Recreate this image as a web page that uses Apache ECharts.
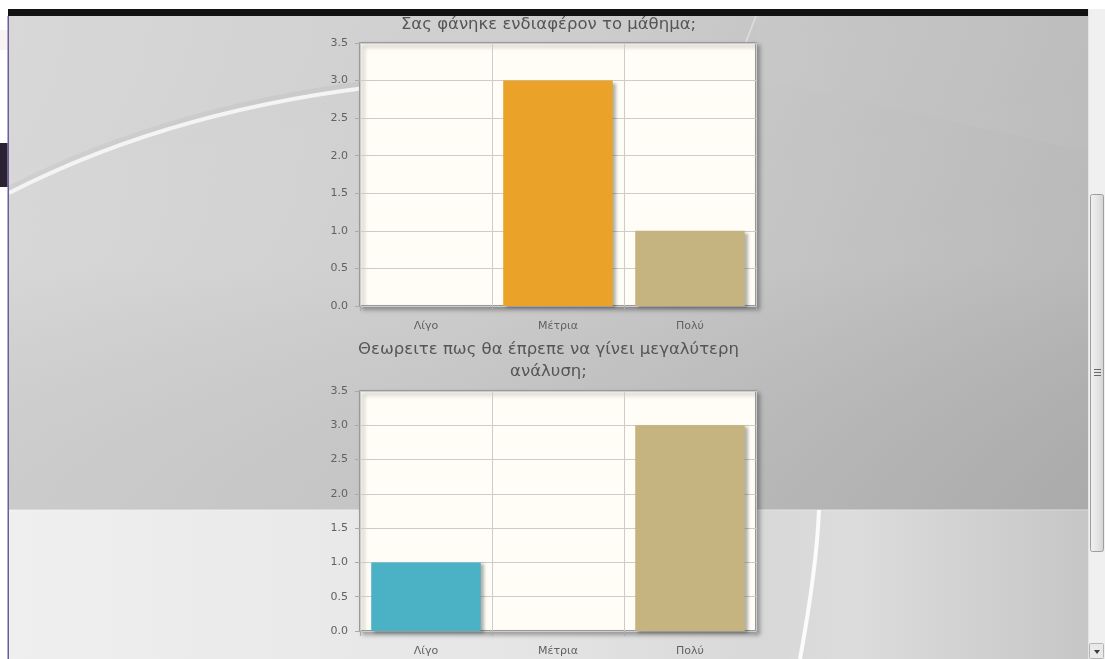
<!DOCTYPE html>
<html>
<head>
<meta charset="utf-8">
<title>Ερωτηματολόγιο μαθήματος</title>
<script src="https://cdn.jsdelivr.net/npm/echarts@6/dist/echarts.min.js"></script>
<style>
  html, body { margin: 0; padding: 0; background: #ffffff; }
  #chart { width: 1105px; height: 659px; }
</style>
</head>
<body>
<div id="chart"></div>
<script>
// Survey answers per question
const categories = ['Λίγο', 'Μέτρια', 'Πολύ'];
const interestValues = [0, 3, 1];   // Σας φάνηκε ενδιαφέρον το μάθημα;
const analysisValues = [1, 0, 3];   // Θεωρειτε πως θα έπρεπε να γίνει μεγαλύτερη ανάλυση;
const barColors = ['#4bb2c5', '#eaa228', '#c5b47f'];
const titles = [
  'Σας φάνηκε ενδιαφέρον το μάθημα;',
  'Θεωρειτε πως θα έπρεπε να γίνει μεγαλύτερη\nανάλυση;'
];
const yMin = 0, yMax = 3.5, yStep = 0.5;

const FONT = '"DejaVu Sans", Verdana, sans-serif';
const TEXT = '#616161';

const chart = echarts.init(document.getElementById('chart'), null, { renderer: 'canvas' });

// Page backdrop: grey panel with light swooshes, header strip and scrollbar
const backdrop = [
  { type: 'rect', shape: { x: 0, y: 0, width: 1105, height: 659 }, style: { fill: '#ffffff' } },
  { type: 'rect', shape: { x: 9, y: 16, width: 1079, height: 494 },
    style: { fill: new echarts.graphic.LinearGradient(0, 0, 1, 1, [
      { offset: 0, color: '#d6d6d6' }, { offset: 0.45, color: '#cbcbcb' }, { offset: 1, color: '#b0b0b0' }]) } },
  { type: 'rect', shape: { x: 9, y: 16, width: 1079, height: 494 },
    style: { fill: new echarts.graphic.LinearGradient(0, 0, 0, 1, [
      { offset: 0, color: 'rgba(255,255,255,0.04)' }, { offset: 0.5, color: 'rgba(255,255,255,0.07)' },
      { offset: 1, color: 'rgba(0,0,0,0.03)' }]) } },
  { type: 'polygon', shape: { points: [[757, 78], [1088, 152], [1088, 16], [757, 16]] },
    style: { fill: 'rgba(255,255,255,0.03)' } },
  { type: 'bezierCurve', shape: { x1: 9, y1: 190, x2: 400, y2: 81, cpx1: 134, cpy1: 126, cpx2: 270, cpy2: 94 },
    style: { stroke: 'rgba(0,0,0,0.035)', lineWidth: 8, fill: null } },
  { type: 'bezierCurve', shape: { x1: 9, y1: 193, x2: 400, y2: 84, cpx1: 134, cpy1: 129, cpx2: 270, cpy2: 97 },
    style: { stroke: '#f4f4f4', lineWidth: 4, fill: null } },
  { type: 'line', shape: { x1: 756, y1: 16, x2: 746, y2: 42 },
    style: { stroke: 'rgba(255,255,255,0.35)', lineWidth: 2 } },
  { type: 'rect', shape: { x: 9, y: 510, width: 1079, height: 149 },
    style: { fill: new echarts.graphic.LinearGradient(0, 0, 1, 0, [
      { offset: 0, color: '#efefef' }, { offset: 0.45, color: '#e6e6e6' }, { offset: 0.7, color: '#d8d8d8' },
      { offset: 0.78, color: '#dcdcdc' }, { offset: 1, color: '#c6c6c6' }]) } },
  { type: 'rect', shape: { x: 9, y: 509, width: 1079, height: 1.5 }, style: { fill: 'rgba(255,255,255,0.3)' } },
  { type: 'bezierCurve', shape: { x1: 819, y1: 510, x2: 800, y2: 659, cpx1: 817, cpy1: 560, cpx2: 809, cpy2: 610 },
    style: { stroke: '#fbfbfb', lineWidth: 4, fill: null } },
  { type: 'rect', shape: { x: 8, y: 9, width: 1080, height: 7 }, style: { fill: '#121212' } },
  { type: 'rect', shape: { x: 7.5, y: 16, width: 1.5, height: 643 }, style: { fill: '#6e5aa0' } },
  { type: 'rect', shape: { x: 0, y: 143, width: 7.5, height: 44 }, style: { fill: '#2a2232' } },
  { type: 'rect', shape: { x: 0, y: 30, width: 7.5, height: 20 }, style: { fill: 'rgba(170,90,90,0.08)' } },
  // scrollbar
  { type: 'rect', shape: { x: 1088, y: 9, width: 17, height: 650 }, style: { fill: '#f0f0f0' } },
  { type: 'rect', shape: { x: 1088, y: 9, width: 1, height: 650 }, style: { fill: '#e4e4e4' } },
  { type: 'rect', shape: { x: 1090.5, y: 194.5, width: 13, height: 357, r: 2 },
    style: { fill: new echarts.graphic.LinearGradient(0, 0, 1, 0, [
      { offset: 0, color: '#f2f2f2' }, { offset: 0.5, color: '#e6e6e6' }, { offset: 1, color: '#d2d2d2' }]),
      stroke: '#9e9e9e', lineWidth: 1 } },
  { type: 'line', shape: { x1: 1094, y1: 369.5, x2: 1101, y2: 369.5 }, style: { stroke: '#6a6a6a', lineWidth: 1 } },
  { type: 'line', shape: { x1: 1094, y1: 372.5, x2: 1101, y2: 372.5 }, style: { stroke: '#6a6a6a', lineWidth: 1 } },
  { type: 'line', shape: { x1: 1094, y1: 375.5, x2: 1101, y2: 375.5 }, style: { stroke: '#6a6a6a', lineWidth: 1 } },
  { type: 'rect', shape: { x: 1089.5, y: 643.5, width: 14, height: 15, r: 1 },
    style: { fill: '#e9e9e9', stroke: '#b4b4b4', lineWidth: 1 } },
  { type: 'polygon', shape: { points: [[1094, 650], [1100, 650], [1097, 654]] }, style: { fill: '#3c3c3c' } }
].map(function (el) { el.z = -100; el.silent = true; return el; });

function grid(top, height) {
  return {
    left: 360, top: top, width: 396, height: height,
    show: true, backgroundColor: '#fffdf6',
    borderColor: '#999999', borderWidth: 2,
    shadowColor: 'rgba(0,0,0,0.28)', shadowBlur: 4, shadowOffsetX: 3, shadowOffsetY: 3
  };
}

function xAxis(index) {
  return {
    type: 'category', gridIndex: index, data: categories, boundaryGap: true,
    axisLine: { show: false },
    axisTick: { show: true, length: 5, lineStyle: { color: '#aaaaaa' } },
    axisLabel: { color: TEXT, fontFamily: FONT, fontSize: 11, margin: 15 },
    splitLine: { show: true, interval: 0, lineStyle: { color: '#cccccc', width: 1 } }
  };
}

function yAxis(index) {
  return {
    type: 'value', gridIndex: index, min: yMin, max: yMax, interval: yStep,
    axisLine: { show: false },
    axisTick: { show: true, length: 5, lineStyle: { color: '#aaaaaa' } },
    axisLabel: { color: TEXT, fontFamily: FONT, fontSize: 11, margin: 12,
      formatter: function (v) { return v.toFixed(1); } },
    splitLine: { show: true, lineStyle: { color: '#cccccc', width: 1 } }
  };
}

function barSeries(index, values) {
  return {
    type: 'bar', xAxisIndex: index, yAxisIndex: index,
    data: values.map(function (v, i) {
      return { value: v, itemStyle: { color: barColors[i] } };
    }),
    barWidth: '83%',
    itemStyle: { shadowColor: 'rgba(0,0,0,0.3)', shadowBlur: 3, shadowOffsetX: 3, shadowOffsetY: 2 },
    emphasis: { disabled: true },
    animation: false
  };
}

chart.setOption({
  animation: false,
  textStyle: { fontFamily: FONT },
  graphic: { elements: backdrop },
  title: [
    { text: titles[0], left: 548.5, top: 14, textAlign: 'center', padding: 0,
      textStyle: { fontFamily: FONT, fontSize: 16.5, fontWeight: 'normal', color: '#555555', lineHeight: 22 } },
    { text: titles[1], left: 548.5, top: 339, textAlign: 'center', padding: 0,
      textStyle: { fontFamily: FONT, fontSize: 16.5, fontWeight: 'normal', color: '#555555', lineHeight: 22 } }
  ],
  grid: [grid(43, 263), grid(391, 240)],
  xAxis: [xAxis(0), xAxis(1)],
  yAxis: [yAxis(0), yAxis(1)],
  series: [barSeries(0, interestValues), barSeries(1, analysisValues)]
});
</script>
</body>
</html>
